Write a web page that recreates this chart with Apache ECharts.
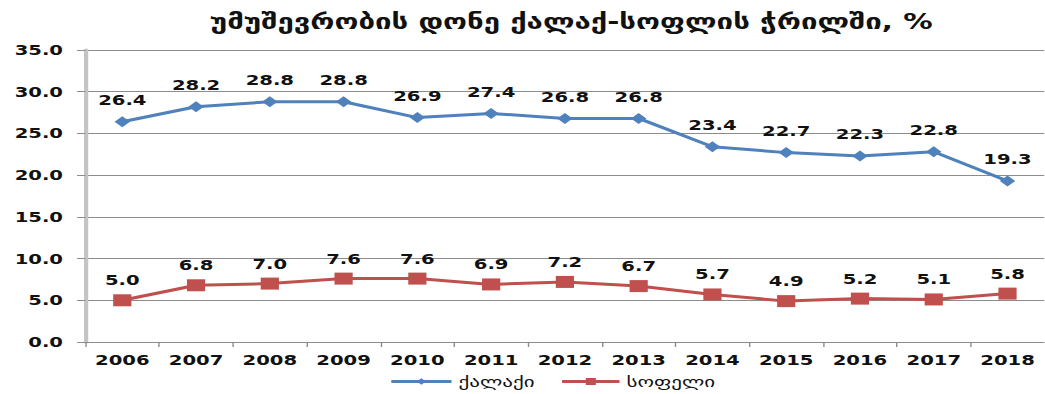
<!DOCTYPE html>
<html>
<head>
<meta charset="utf-8">
<script src="https://cdn.jsdelivr.net/npm/echarts@6/dist/echarts.min.js"></script>
<style>
  html, body { margin: 0; padding: 0; background: #fff; overflow: hidden; }
  /* The chart is laid out narrow and widened horizontally, giving the broad letterforms and flat markers */
  #chart { width: 746px; height: 394px; transform: scaleX(1.4); transform-origin: 0 0; }
</style>
</head>
<body>
<div id="chart"></div>
<script>
// Unemployment rate by urban / rural area, %
const years = ['2006','2007','2008','2009','2010','2011','2012','2013','2014','2015','2016','2017','2018'];
const urban = [26.4, 28.2, 28.8, 28.8, 26.9, 27.4, 26.8, 26.8, 23.4, 22.7, 22.3, 22.8, 19.3];
const rural = [5.0, 6.8, 7.0, 7.6, 7.6, 6.9, 7.2, 6.7, 5.7, 4.9, 5.2, 5.1, 5.8];
const yTicks = { min: 0, max: 35, interval: 5 };

const FONT = 'DejaVu Sans';
const chart = echarts.init(document.getElementById('chart'), null, { renderer: 'svg' });

const labelStyle = (dist) => ({
  show: true,
  position: 'top',
  distance: dist,
  fontFamily: FONT,
  fontWeight: 'bold',
  fontSize: 14,
  color: '#111',
  formatter: p => p.value.toFixed(1)
});

const legendText = { fontFamily: FONT, fontSize: 15, color: '#111' };

chart.setOption({
  animation: false,
  title: {
    text: 'უმუშევრობის დონე ქალაქ-სოფლის ჭრილში, %',
    left: 403,
    textAlign: 'center',
    top: 6,
    textStyle: { fontFamily: FONT, fontWeight: 'bold', fontSize: 21, color: '#111' }
  },
  legend: [
    {
      data: ['ქალაქი'],
      left: 273, bottom: 0,
      itemWidth: 43, itemHeight: 8, itemGap: 2,
      lineStyle: { width: 3 },
      textStyle: legendText
    },
    {
      data: ['სოფელი'],
      left: 395, bottom: 0,
      itemWidth: 41, itemHeight: 9, itemGap: 2,
      lineStyle: { width: 3 },
      textStyle: legendText
    }
  ],
  grid: { left: 61, right: -1, top: 50, bottom: 52 },
  xAxis: {
    type: 'category',
    data: years,
    boundaryGap: true,
    axisLine: { lineStyle: { color: '#8c8c8c', width: 1 } },
    axisTick: { show: true, length: 5, lineStyle: { color: '#8c8c8c' } },
    axisLabel: { fontFamily: FONT, fontWeight: 'bold', fontSize: 14, color: '#111', margin: 11 }
  },
  yAxis: {
    type: 'value',
    min: yTicks.min,
    max: yTicks.max,
    interval: yTicks.interval,
    axisLine: { show: true, lineStyle: { color: '#c4c4c4', width: 3 } },
    axisTick: { show: true, inside: false, length: 6, lineStyle: { color: '#8c8c8c' } },
    splitLine: { lineStyle: { color: '#8c8c8c', width: 1 } },
    axisLabel: {
      fontFamily: FONT, fontWeight: 'bold', fontSize: 14, color: '#111', margin: 16,
      formatter: v => v.toFixed(1)
    }
  },
  series: [
    {
      name: 'ქალაქი',
      type: 'line',
      data: urban,
      symbol: 'diamond',
      symbolSize: [11, 11],
      lineStyle: { color: '#4f81bd', width: 3 },
      itemStyle: { color: '#4f81bd' },
      label: labelStyle(9)
    },
    {
      name: 'სოფელი',
      type: 'line',
      data: rural,
      symbol: 'rect',
      symbolSize: [13, 12],
      lineStyle: { color: '#c0504d', width: 3 },
      itemStyle: { color: '#c0504d' },
      label: labelStyle(7)
    }
  ]
});
</script>
</body>
</html>
